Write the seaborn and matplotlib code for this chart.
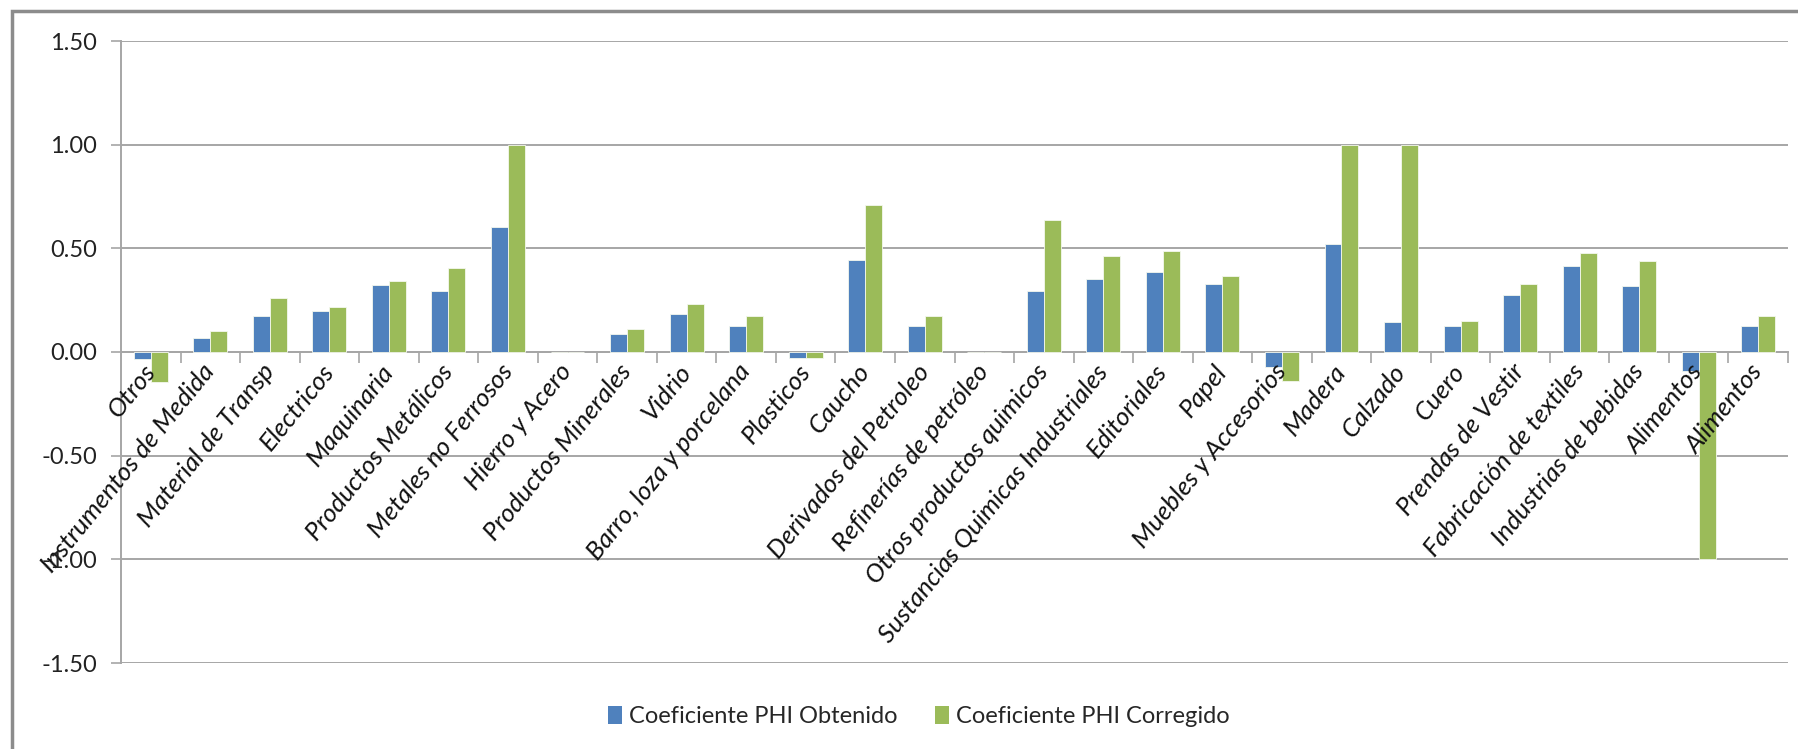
import matplotlib
matplotlib.use("Agg")
import matplotlib.pyplot as plt
import seaborn as sns
import pandas as pd
import numpy as np
from matplotlib.patches import Rectangle, Patch
from matplotlib.ticker import FixedLocator, FormatStrFormatter

categories = ["Otros", "Instrumentos de Medida", "Material de Transp", "Electricos",
              "Maquinaria", "Productos Metálicos", "Metales no Ferrosos", "Hierro y Acero",
              "Productos Minerales", "Vidrio", "Barro, loza y porcelana", "Plasticos",
              "Caucho", "Derivados del Petroleo", "Refinerías de petróleo",
              "Otros productos quimicos", "Sustancias Quimicas Industriales", "Editoriales",
              "Papel", "Muebles y Accesorios", "Madera", "Calzado", "Cuero",
              "Prendas de Vestir", "Fabricación de textiles", "Industrias de bebidas",
              "Alimentos", "Alimentos"]
phi_obtenido = [-0.035, 0.069, 0.176, 0.200, 0.325, 0.293, 0.604, 0.0,
                0.089, 0.182, 0.126, -0.029, 0.443, 0.126, 0.0,
                0.293, 0.354, 0.386, 0.330, -0.072, 0.522, 0.145, 0.126,
                0.274, 0.417, 0.317, -0.090, 0.126]
phi_corregido = [-0.147, 0.100, 0.261, 0.219, 0.341, 0.404, 1.000, 0.0,
                 0.113, 0.232, 0.176, -0.029, 0.707, 0.176, 0.0,
                 0.639, 0.465, 0.485, 0.367, -0.138, 1.000, 1.000, 0.150,
                 0.330, 0.478, 0.441, -1.000, 0.176]
series_names = ["Coeficiente PHI Obtenido", "Coeficiente PHI Corregido"]
colors = ["#4F81BD", "#9BBB59"]
yticks = [-1.5, -1.0, -0.5, 0.0, 0.5, 1.0, 1.5]

n = len(categories)
df = pd.DataFrame({
    "pos": list(range(n)) * 2,
    "valor": phi_obtenido + phi_corregido,
    "serie": [series_names[0]] * n + [series_names[1]] * n,
})

sns.set_theme(style="white")
plt.rcParams["font.family"] = ["Lato", "DejaVu Sans"]

fig = plt.figure(figsize=(17.98, 7.49), dpi=100)
ax = fig.add_axes([121 / 1798, 1 - 663 / 749, (1788 - 121) / 1798, (663 - 41) / 749])

sns.barplot(data=df, x="pos", y="valor", hue="serie", order=list(range(n)),
            hue_order=series_names, palette=colors, width=0.57, errorbar=None,
            edgecolor="#f4f8ee", linewidth=0.6, ax=ax, legend=False, saturation=1)

ax.set_xlim(-0.5, n - 0.5)
ax.set_ylim(-1.5, 1.5)
ax.set_xlabel("")
ax.set_ylabel("")

grid_c = "#A6A6A6"
ax.yaxis.set_major_locator(FixedLocator(yticks))
ax.yaxis.set_major_formatter(FormatStrFormatter("%.2f"))
ax.grid(False)
for yv in yticks:
    ax.axhline(yv, color=grid_c, linewidth=1.4, zorder=0)
ax.set_axisbelow(False)
for s in ["top", "right"]:
    ax.spines[s].set_visible(False)
ax.spines["left"].set_color(grid_c)
ax.spines["left"].set_linewidth(1.4)
ax.spines["left"].set_zorder(0)
ax.spines["bottom"].set_position(("data", 0))
ax.spines["bottom"].set_color(grid_c)
ax.spines["bottom"].set_linewidth(1.4)
ax.spines["bottom"].set_zorder(0)

ax.tick_params(axis="y", which="major", direction="out", length=7, width=1.2,
               color=grid_c, labelsize=17, pad=10, labelcolor="#222222", left=True)
ax.set_xticks(list(range(n)))
ax.set_xticklabels(categories, rotation=51, ha="right", rotation_mode="anchor",
                   va="center", fontsize=18.5, fontstyle="italic", color="#111111")
ax.tick_params(axis="x", which="major", length=0, pad=11, bottom=True)
ax.set_xticks(np.arange(0.5, n, 1.0), minor=True)
ax.tick_params(axis="x", which="minor", direction="out", length=8, width=1.2,
               color=grid_c, bottom=True)

fig.patches.append(Rectangle((12 / 1798, -0.05), 1.1, 1 - 11 / 749 + 0.05,
                             transform=fig.transFigure, fill=False,
                             edgecolor="#8C8C8C", linewidth=2.5))

handles = [Patch(facecolor=c, edgecolor="none") for c in colors]
fig.legend(handles, series_names, loc="center", bbox_to_anchor=(0.511, 0.043),
           ncol=2, frameon=False, fontsize=17, handlelength=0.6, handleheight=0.75,
           handletextpad=0.3, columnspacing=1.6)

fig.savefig("out.png", dpi=100)
